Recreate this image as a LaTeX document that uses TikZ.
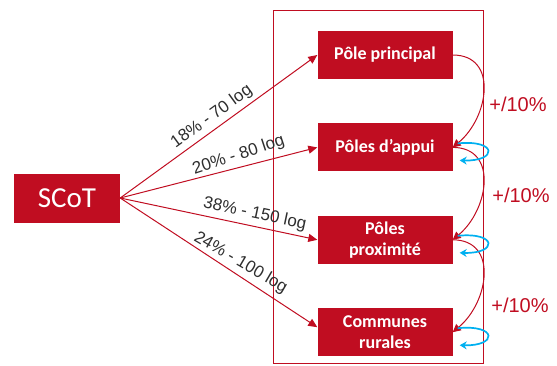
\documentclass[tikz,border=0pt]{standalone}
\usepackage{fontspec}
\setmainfont{Carlito}
\newfontfamily\labelfont{Liberation Sans}
\usepackage{tikz}
\usetikzlibrary{positioning, arrows.meta}
\definecolor{scotRed}{HTML}{C00D21}
\definecolor{scotGray}{HTML}{2E2E2E}
\definecolor{loopBlue}{HTML}{00B0F0}
\tikzset{
  polebox/.style={rectangle, fill=scotRed, text=white, align=center,
    font=\bfseries\fontsize{18}{21}\selectfont,
    minimum width=135pt, minimum height=48pt, inner sep=2pt},
  share/.style={-{Triangle[length=9pt, width=8pt]}, line width=1pt, scotRed},
  sharelabel/.style={font=\labelfont\fontsize{17}{19}\selectfont,
    text=scotGray, sloped, above, inner sep=3.5pt},
  transfer/.style={-{Triangle[length=8pt, width=8pt]}, line width=1pt, scotRed},
  selfloop/.style={-{Stealth[length=7pt, width=8pt]}, line width=1.7pt, loopBlue},
  ratelabel/.style={font=\labelfont\fontsize{20}{24}\selectfont, text=scotRed},
}

\begin{document}
\begin{tikzpicture}[x=1pt, y=-1pt]
    \useasboundingbox (0,0) rectangle (557,365);
    % frame round the poles
    \draw[scotRed, line width=1pt] (273,10) rectangle (483,363);
    % SCoT and the poles
    \node[polebox, font=\fontsize{29}{32}\selectfont,
          minimum width=106pt, minimum height=49pt] (scot) at (67,198) {SCoT};
    \node[polebox] (pp) at (385,55) {Pôle principal};
    \node[polebox, below=44pt of pp] (pa) {Pôles d’appui};
    \node[polebox, below=44pt of pa] (px) {Pôles\\proximité};
    \node[polebox, below=44pt of px] (cr) {Communes\\rurales};
    % shares of housing
    \draw[share] (scot.east) -- (pp.west)
      node[sharelabel, pos=0.5] {18\% - 70 log};
    \draw[share] (scot.east) -- (pa.west)
      node[sharelabel, pos=0.62, rotate=4] {20\% - 80 log};
    \draw[share] (scot.east) -- (px.west)
      node[sharelabel, pos=0.67] {38\% - 150 log};
    \draw[share] (scot.east) -- ([yshift=5pt]cr.west)
      node[sharelabel, pos=0.58, rotate=3] {24\% - 100 log};
    % transfers between levels
    \draw[transfer] (pp.east) .. controls ([xshift=46pt]pp.east)
      and ([shift={(36pt,30pt)}]pa.east) .. (pa.east);
    \draw[transfer] (pa.east) .. controls ([xshift=46pt]pa.east)
      and ([shift={(36pt,30pt)}]px.east) .. (px.east);
    \draw[transfer] (px.east) .. controls ([xshift=46pt]px.east)
      and ([shift={(36pt,30pt)}]cr.east) .. (cr.east);
    \node[ratelabel] (r1) at (518,104) {+/10\%};
    \node[ratelabel] (r2) at (521,195) {+/10\%};
    \node[ratelabel] (r3) at (520,305) {+/10\%};
    % loops on each level
    \foreach \n in {pa, px, cr}
      \draw[selfloop] ([shift={(5pt,4pt)}]\n.east)
        .. controls ([shift={(45pt,8pt)}]\n.east)
        and ([shift={(45pt,-14pt)}]\n.east) .. ([shift={(7pt,-13pt)}]\n.east);
\end{tikzpicture}
\end{document}
